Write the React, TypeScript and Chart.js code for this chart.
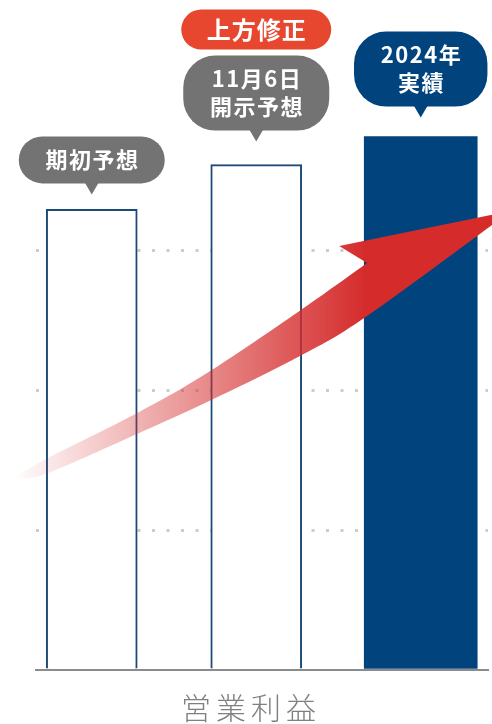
import React, { useEffect, useRef } from 'react';
import { Chart, registerables } from 'chart.js';

Chart.register(...registerables);

// ---------------- data ----------------
const CATEGORIES = ['期初予想', '11月6日開示予想', '2024年実績'];
const CALLOUT_LINES = [['期初予想'], ['11月6日', '開示予想'], ['2024年', '実績']];
const OPERATING_PROFIT = [329, 361, 381];
const IS_ACTUAL = [false, false, true];
const Y_MIN = 0;
const Y_MAX = 400;
const Y_STEP = 100;
const AXIS_TITLE = '営業利益';
const BADGE_TEXT = '上方修正';
const BADGE_CATEGORY = 1;

// decorative rising arrow, outline in data space [category index, value]
const ARROW_UPPER_EDGE = [
  [-0.454, 138.6], [-0.266, 151.4], [0.288, 184.3], [0.701, 212.1], [1.254, 255.7], [1.674, 290.7],
];
const ARROW_HEAD = [[1.504, 302.9], [2.549, 327.9]];
const ARROW_LOWER_EDGE = [
  [1.674, 252.9], [1.254, 223.6], [0.701, 191.4], [0.288, 169.3], [-0.266, 140.7], [-0.454, 136.4],
];

// ---------------- styles ----------------
const X_MIN = -0.339;
const X_MAX = 2.409;
const NAVY = '#01437d';
const OUTLINE = '#1b4a77';
const GREY_BUBBLE = '#737373';
const RED_BADGE = '#e8472f';
const ARROW_RGB = '213,43,43';
const FONT = '"Noto Sans CJK JP", "Noto Sans", sans-serif';
const CALLOUT_COLORS = [GREY_BUBBLE, GREY_BUBBLE, NAVY];
const CALLOUT_GAPS = [15, 23, 19];

function smoothThrough(ctx: CanvasRenderingContext2D, pts: number[][]) {
  for (let i = 0; i < pts.length - 1; i++) {
    const p0 = pts[i - 1] || pts[i];
    const p1 = pts[i];
    const p2 = pts[i + 1];
    const p3 = pts[i + 2] || p2;
    ctx.bezierCurveTo(
      p1[0] + (p2[0] - p0[0]) / 6, p1[1] + (p2[1] - p0[1]) / 6,
      p2[0] - (p3[0] - p1[0]) / 6, p2[1] - (p3[1] - p1[1]) / 6,
      p2[0], p2[1]
    );
  }
}

function roundRect(ctx: CanvasRenderingContext2D, x: number, y: number, w: number, h: number, r: number) {
  const rr = Math.min(r, h / 2, w / 2);
  ctx.moveTo(x + rr, y);
  ctx.lineTo(x + w - rr, y);
  ctx.arcTo(x + w, y, x + w, y + rr, rr);
  ctx.lineTo(x + w, y + h - rr);
  ctx.arcTo(x + w, y + h, x + w - rr, y + h, rr);
  ctx.lineTo(x + rr, y + h);
  ctx.arcTo(x, y + h, x, y + h - rr, rr);
  ctx.lineTo(x, y + rr);
  ctx.arcTo(x, y, x + rr, y, rr);
  ctx.closePath();
}

const decorPlugin = {
  id: 'decor',
  beforeDraw(chart: any) {
    (chart.ctx as any).letterSpacing = '5px';
  },
  beforeDatasetsDraw(chart: any) {
    (chart.ctx as any).letterSpacing = '0px';
  },
  afterDatasetsDraw(chart: any) {
    const ctx: CanvasRenderingContext2D = chart.ctx;
    const xs = chart.scales.x;
    const ys = chart.scales.y;
    const toPx = (p: number[]) => [xs.getPixelForValue(p[0]), ys.getPixelForValue(p[1])];

    // arrow
    const up = ARROW_UPPER_EDGE.map(toPx);
    const head = ARROW_HEAD.map(toPx);
    const low = ARROW_LOWER_EDGE.map(toPx);
    ctx.save();
    const g = ctx.createLinearGradient(up[0][0] - 6, 0, up[up.length - 1][0], 0);
    g.addColorStop(0, `rgba(${ARROW_RGB},0)`);
    g.addColorStop(1, `rgba(${ARROW_RGB},1)`);
    ctx.fillStyle = g;
    ctx.beginPath();
    ctx.moveTo(up[0][0], up[0][1]);
    smoothThrough(ctx, up);
    ctx.lineTo(head[0][0], head[0][1]);
    ctx.lineTo(head[1][0], head[1][1]);
    smoothThrough(ctx, [head[1], ...low]);
    ctx.closePath();
    ctx.fill();
    ctx.restore();

    // callouts
    const items: any[] = [];
    chart.data.datasets.forEach((ds: any, d: number) => {
      const meta = chart.getDatasetMeta(d);
      meta.data.forEach((el: any, j: number) => {
        items[ds.data[j].x] = el;
      });
    });
    ctx.save();
    items.forEach((el: any, i: number) => {
      if (!el) return;
      const lines = CALLOUT_LINES[i];
      ctx.font = `700 22px ${FONT}`;
      (ctx as any).letterSpacing = '1.5px';
      const tw = Math.max(...lines.map((l) => ctx.measureText(l).width));
      const w = tw + 52;
      const h = 19 + lines.length * 28;
      const tipY = el.y - CALLOUT_GAPS[i];
      const bottom = tipY - 11;
      const top = bottom - h;
      const cx = el.x;
      ctx.fillStyle = CALLOUT_COLORS[i];
      ctx.beginPath();
      roundRect(ctx, cx - w / 2, top, w, h, 32);
      ctx.fill();
      ctx.beginPath();
      ctx.moveTo(cx - 7, bottom - 1);
      ctx.lineTo(cx + 7, bottom - 1);
      ctx.lineTo(cx, tipY);
      ctx.closePath();
      ctx.fill();
      ctx.fillStyle = '#ffffff';
      ctx.textAlign = 'center';
      ctx.textBaseline = 'middle';
      const cy = top + h / 2;
      lines.forEach((l, k) => {
        ctx.fillText(l, cx + 0.75, cy + (k - (lines.length - 1) / 2) * 28);
      });

      if (i === BADGE_CATEGORY) {
        ctx.font = `700 24px ${FONT}`;
        (ctx as any).letterSpacing = '1px';
        const bw = ctx.measureText(BADGE_TEXT).width + 50;
        const bh = 40;
        const bBottom = top - 6;
        ctx.fillStyle = RED_BADGE;
        ctx.beginPath();
        roundRect(ctx, cx - bw / 2, bBottom - bh, bw, bh, 20);
        ctx.fill();
        ctx.fillStyle = '#ffffff';
        ctx.fillText(BADGE_TEXT, cx + 0.5, bBottom - bh / 2);
      }
    });
    ctx.restore();
    (ctx as any).letterSpacing = '0px';
  },
};

export default function App() {
  const ref = useRef<HTMLCanvasElement>(null);

  useEffect(() => {
    if (!ref.current) return;
    const forecastData = OPERATING_PROFIT.map((v, i) => ({ x: i, y: v })).filter((p) => !IS_ACTUAL[p.x]);
    const actualData = OPERATING_PROFIT.map((v, i) => ({ x: i, y: v })).filter((p) => IS_ACTUAL[p.x]);

    const chart = new Chart(ref.current, {
      type: 'bar',
      data: {
        labels: CATEGORIES,
        datasets: [
          {
            label: '予想',
            data: forecastData as any,
            backgroundColor: '#ffffff',
            borderColor: OUTLINE,
            borderWidth: 2,
            borderSkipped: 'start',
            barThickness: 91,
            grouped: false,
          } as any,
          {
            label: '実績',
            data: actualData as any,
            backgroundColor: NAVY,
            borderWidth: 0,
            barThickness: 113,
            grouped: false,
          } as any,
        ],
      },
      options: {
        animation: false,
        responsive: true,
        maintainAspectRatio: false,
        devicePixelRatio: 1,
        layout: { padding: { left: 14, right: 4, top: 110, bottom: 0 } },
        plugins: {
          legend: { display: false },
          tooltip: { enabled: false },
          title: {
            display: true,
            text: AXIS_TITLE,
            position: 'bottom',
            color: '#7f7f7f',
            font: { family: FONT, size: 30, weight: '300' as any, lineHeight: 1.2 },
            padding: { top: 20, bottom: 0 },
          },
        },
        scales: {
          x: {
            type: 'linear',
            offset: false,
            min: X_MIN,
            max: X_MAX,
            ticks: { display: false },
            grid: { display: false, drawTicks: false, offset: false },
            border: { display: true, color: '#8c8c8c', width: 2, z: 1 } as any,
          },
          y: {
            min: Y_MIN,
            max: Y_MAX,
            ticks: { display: false, stepSize: Y_STEP },
            afterFit: (scale: any) => {
              scale.width = 22;
            },
            grid: {
              drawTicks: false,
              lineWidth: 3,
              color: (c: any) =>
                c.tick && c.tick.value > Y_MIN && c.tick.value < Y_MAX ? '#cdcdcd' : 'rgba(0,0,0,0)',
            },
            border: { display: false, dash: [3, 11.5] } as any,
          },
        },
      },
      plugins: [decorPlugin],
    });
    return () => chart.destroy();
  }, []);

  return (
    <div
      style={{
        position: 'fixed',
        left: 0,
        top: 0,
        width: 492,
        height: 724,
        overflow: 'hidden',
        background: '#ffffff',
      }}
    >
      <div style={{ position: 'relative', width: 492, height: 726 }}>
        <canvas ref={ref} />
      </div>
    </div>
  );
}
